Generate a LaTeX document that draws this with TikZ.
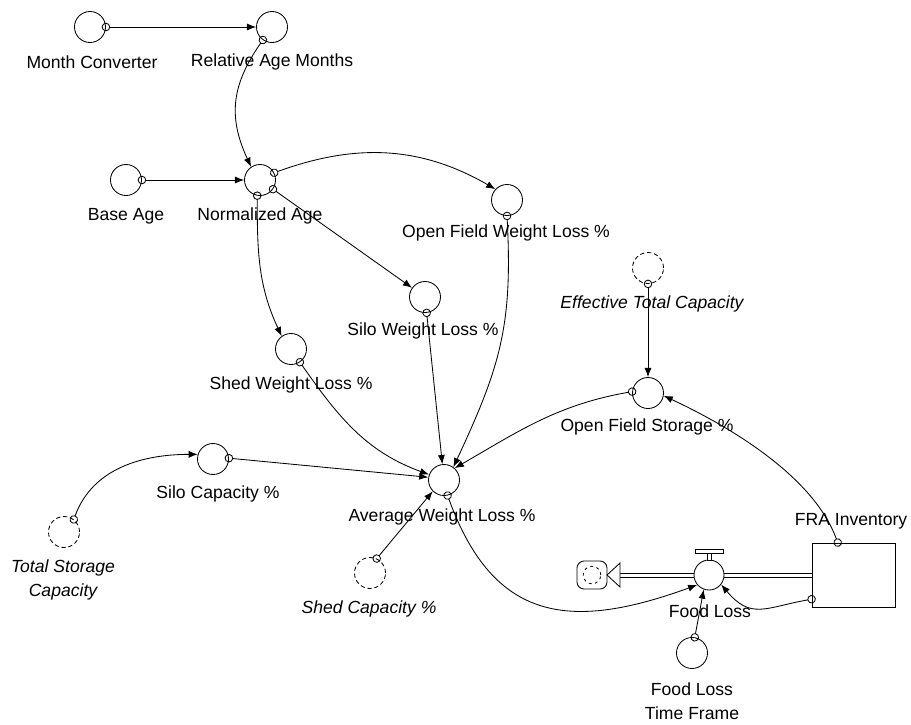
\documentclass[tikz,border=0pt]{standalone}
\usepackage{fontspec}
\setmainfont{Liberation Sans}
\usetikzlibrary{arrows.meta,calc}
\tikzset{
  aux/.style={circle, draw, line width=0.6pt, minimum size=0.775cm, inner sep=0pt},
  ghost/.style={aux, dash pattern=on 3pt off 2pt},
  lbl/.style={font=\fontsize{12.5}{17}\selectfont, align=center, inner sep=0pt},
  ilbl/.style={lbl, font=\fontsize{12.5}{17}\selectfont\itshape},
  link/.style={line width=0.6pt, {Circle[open,length=6pt]}-{Latex[length=6.5pt,width=5pt]}, shorten <=-3pt},
  pipeline/.style={line width=0.6pt},
}

\begin{document}
\begin{tikzpicture}[x=0.025cm, y=0.025cm]
    \useasboundingbox (0,0) rectangle (911,-724);

    % variables
    \node [aux] (MC) at (90,-27) {};
    \node [aux] (RAM) at (272,-27) {};
    \node [aux] (BA) at (126,-180) {};
    \node [aux] (NA) at (260,-180) {};
    \node [aux] (OFWL) at (507,-200) {};
    \node [aux] (SWL) at (425,-297) {};
    \node [aux] (ShWL) at (291,-349) {};
    \node [ghost] (ETC) at (648,-268) {};
    \node [aux] (OFS) at (648,-393) {};
    \node [aux] (SC) at (213,-459) {};
    \node [aux] (AWL) at (444,-480) {};
    \node [ghost] (TSC) at (64,-532) {};
    \node [ghost] (ShC) at (370,-573) {};
    \node [aux] (FLTF) at (692,-653) {};

    % stock, flow and cloud
    \node [draw, line width=0.6pt, minimum width=2.075cm, minimum height=1.6cm] (FRA) at (853.5,-575) {};
    \node [aux, minimum size=0.75cm] (FL) at (709,-575) {};
    \node [draw, line width=0.6pt, rounded corners=5pt, minimum width=0.75cm, minimum height=0.7cm] (sink) at (592,-575) {};
    \draw [dash pattern=on 2pt off 2.5pt, line width=0.6pt] (sink.center) circle (0.22cm);
    \coordinate (base) at (620,-575);
    \coordinate (tip) at (607,-575);
    \begin{scope}
      \draw [pipeline] ($(FL.east)+(0,2)$) -- ($(FRA.west)+(0,2)$);
      \draw [pipeline] ($(FL.east)+(0,-2)$) -- ($(FRA.west)+(0,-2)$);
      \draw [pipeline] ($(FL.west)+(0,2)$) -- ($(base)+(0,2)$);
      \draw [pipeline] ($(FL.west)+(0,-2)$) -- ($(base)+(0,-2)$);
      \draw [pipeline, fill=white] ($(base)+(0,12)$) -- (tip) -- ($(base)+(0,-12)$) -- cycle;
      \draw [pipeline, fill=white] (707,-553) rectangle (711,-560);
      \draw [pipeline, fill=white] (695,-549) rectangle (723,-553);
    \end{scope}

    % add labels
    \node [lbl] (tMC) at (92,-62) {Month Converter};
    \node [lbl] (tRAM) at (272,-62) {Relative Age Months};
    \node [lbl] (tBA) at (126,-216) {Base Age};
    \node [lbl] (tNA) at (260,-216) {Normalized Age};
    \node [lbl] (tOFWL) at (506,-233) {Open Field Weight Loss \%};
    \node [ilbl] (tETC) at (652,-304) {Effective Total Capacity};
    \node [lbl] (tSWL) at (423,-331) {Silo Weight Loss \%};
    \node [lbl] (tShWL) at (291,-385) {Shed Weight Loss \%};
    \node [lbl] (tOFS) at (647,-427) {Open Field Storage \%};
    \node [lbl] (tSC) at (218,-494) {Silo Capacity \%};
    \node [lbl] (tAWL) at (442,-517) {Average Weight Loss \%};
    \node [ilbl] (tTSC) at (63,-580) {Total Storage\\Capacity};
    \node [ilbl] (tShC) at (369,-609) {Shed Capacity \%};
    \node [lbl] (tFRA) at (851,-521) {FRA Inventory};
    \node [lbl] (tFL) at (710,-611) {Food Loss};
    \node [lbl] (tFLTF) at (692,-701) {Food Loss\\Time Frame};

    % connectors
    \draw [link] (MC) -- (RAM);
    \draw [link] (RAM.235) to [out=235, in=115, looseness=1.1] (NA.124);
    \draw [link] (BA) -- (NA);
    \draw [link] (NA.27) to [out=20, in=150] (OFWL.137);
    \draw [link] (NA) -- (SWL);
    \draw [link] (NA.-100) to [out=-90, in=115] (ShWL.126);
    \draw [link] (OFWL.-90) to [out=-87, in=65, looseness=1.1] (AWL.54);
    \draw [link] (SWL) -- (AWL);
    \draw [link] (ShWL.-56) to [out=-55, in=160] (AWL.160);
    \draw [link] (SC.3) -- (AWL.170);
    \draw [link] (TSC.52) to [out=70, in=180] (SC.163);
    \draw [link] (ShC.65) -- (AWL.225);
    \draw [link] (ETC) -- (OFS);
    \draw [link] (OFS.175) to [out=190, in=30] (AWL.48);
    \draw [link] (FRA.116) to [out=110, in=-25, looseness=0.8] (OFS.-10);
    \draw [link] (AWL.-77) to [out=-70, in=200, looseness=1.3] (FL.220);
    \draw [link] (FRA.210) to [out=190, in=-50, looseness=1.3] (FL.-38);
    \draw [link] (FLTF.80) -- (FL.250);
\end{tikzpicture}
\end{document}
